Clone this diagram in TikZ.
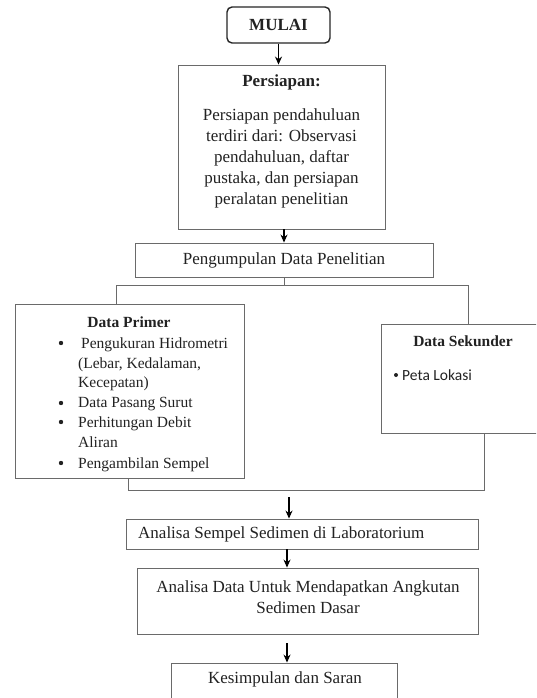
\documentclass[tikz,border=0pt]{standalone}
\usepackage{fontspec}
\setmainfont{Liberation Serif}
\newfontfamily\calib{Carlito}
\usetikzlibrary{calc,arrows.meta}
\definecolor{linegray}{HTML}{6A6A6A}
\definecolor{txt}{HTML}{222222}
\begin{document}
\begin{tikzpicture}[x=1pt,y=-1pt,
  box/.style={draw=linegray, line width=0.9pt, inner sep=0pt},
  txtnode/.style={inner sep=0pt, text=txt},
  arr/.style={draw=black, line width=1.1pt, -{Stealth[length=8pt,width=7pt]}},
  conn/.style={draw=linegray, line width=0.9pt},
  dot/.style={circle, fill=txt, inner sep=0pt, minimum size=4.4pt},
  big/.style={font=\fontsize{17}{21}\selectfont},
  mid/.style={font=\fontsize{15.5}{20}\selectfont}]
\useasboundingbox (0,0) rectangle (536,698);
\clip (0,0) rectangle (536,698);
\fill[white] (0,0) rectangle (536,698);

% MULAI
\node[box, draw=black!85, line width=1.4pt, rounded corners=5pt, minimum width=103pt, minimum height=36pt, font=\fontsize{17}{21}\selectfont\bfseries, text=txt] (mulai) at (278.5,25) {MULAI};

% Persiapan
\node[box, minimum width=207pt, minimum height=164pt] (persiapan) at (281.5,147) {};
\node[txtnode, big, align=center, anchor=north] (ptext) at (281.5,75) {\textbf{Persiapan:}\\[13pt]Persiapan pendahuluan\\terdiri dari: Observasi\\pendahuluan, daftar\\pustaka, dan persiapan\\peralatan penelitian};

% Pengumpulan
\node[box, minimum width=298pt, minimum height=34pt, big, text=txt] (pengumpulan) at (284,260) {Pengumpulan Data Penelitian};

% Data Primer
\node[box, minimum width=229pt, minimum height=174pt] (dp) at (129.5,391) {};
\node[txtnode, mid, anchor=base] (dpt) at (129,327) {\textbf{Data Primer}};
\node[dot] (b1) at (61,343) {};
\node[txtnode, mid, anchor=base west] (i1) at (81,348) {Pengukuran Hidrometri};
\node[txtnode, mid, anchor=base west] (i1b) at (78,368) {(Lebar, Kedalaman,};
\node[txtnode, mid, anchor=base west] (i1c) at (78,387) {Kecepatan)};
\node[dot] (b2) at (61,403) {};
\node[txtnode, mid, anchor=base west] (i2) at (78,407) {Data Pasang Surut};
\node[dot] (b3) at (61,422) {};
\node[txtnode, mid, anchor=base west] (i3) at (78,427) {Perhitungan Debit};
\node[txtnode, mid, anchor=base west] (i3b) at (78,447) {Aliran};
\node[dot] (b4) at (61,463) {};
\node[txtnode, mid, anchor=base west] (i4) at (78,468) {Pengambilan Sempel};

% Data Sekunder
\node[box, minimum width=159pt, minimum height=109pt] (ds) at (460.5,378.5) {};
\node[txtnode, mid, anchor=base] (dst) at (463,346) {\textbf{Data Sekunder}};
\node[dot, minimum size=4pt] (b5) at (396,375) {};
\node[txtnode, font=\calib\fontsize{15.5}{19}\selectfont, anchor=base west] (pl) at (402,380) {Peta Lokasi};

% Connectors
\coordinate (hl) at (116,285);
\coordinate (hr) at (468,285);
\draw[conn] (hl) -- (hr);
\draw[conn] (hl) -- (hl |- dp.north);
\draw[conn] (hr) -- (hr |- ds.north);
\draw[conn] (pengumpulan.south) -- (pengumpulan.south |- hl);
\draw[arr] (mulai.south) -- (mulai.south |- persiapan.north);
\draw[arr] (pengumpulan.north |- persiapan.south) -- (pengumpulan.north);

\coordinate (ll) at (128,490);
\coordinate (lr) at (484,490);
\draw[conn] (ll |- dp.south) -- (ll) -- (lr) -- (lr |- ds.south);

% Analisa sempel
\node[box, minimum width=352pt, minimum height=30pt] (asl) at (302,534) {};
\node[txtnode, big, anchor=west] (aslt) at (138,534) {Analisa Sempel Sedimen di Laboratorium};
\coordinate (la) at (289,497);
\draw[arr] (la) -- (la |- asl.north);

% Analisa data
\node[box, minimum width=341pt, minimum height=66pt] (ad) at (307.5,601) {};
\node[txtnode, big, align=center] (adt) at (308,597) {Analisa Data Untuk Mendapatkan Angkutan\\Sedimen Dasar};
\coordinate (a2) at (287,549);
\draw[arr] (a2) -- (a2 |- ad.north);

% Kesimpulan
\node[box, minimum width=226pt, minimum height=47pt] (kes) at (284,686.5) {};
\node[txtnode, big] (kest) at (285,679) {Kesimpulan dan Saran};
\coordinate (a3) at (287,643);
\draw[arr] (a3) -- (a3 |- kes.north);
\end{tikzpicture}
\end{document}
